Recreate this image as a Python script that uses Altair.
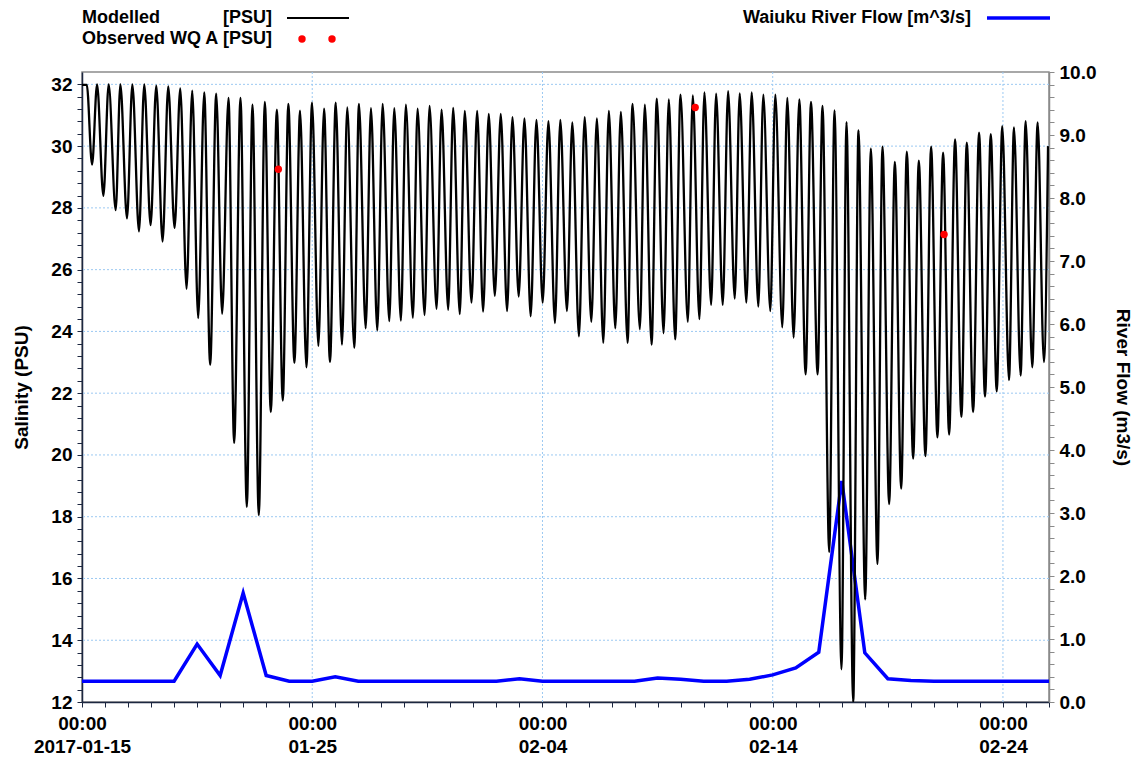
import altair as alt
import pandas as pd

FONT = "Liberation Sans"
START = pd.Timestamp("2017-01-15 00:00")

# ---- Modelled salinity: high-water peaks (hours since 2017-01-15 00:00, PSU)
peak_hours = [0, 5,
              15.7, 27.8, 40.0, 52.5, 64.9, 77.4, 89.9, 102.4, 114.9, 127.4,
              139.9, 152.7, 165.2, 177.7, 190.6, 203.1, 215.1, 227.3, 239.8, 252.3,
              264.5, 276.5, 288.7, 301.2, 313.4, 325.5, 337.6, 349.8, 362.3, 374.8,
              386.9, 399.0, 411.9, 424.0, 436.5, 448.7, 461.2, 473.7, 486.2, 498.6,
              511.1, 524.0, 536.7, 549.2, 561.7, 573.9, 586.7, 599.2, 611.7, 623.9,
              636.7, 648.8, 661.0, 673.5, 685.6, 698.1, 710.2, 722.7, 735.2, 747.7,
              759.9, 771.9, 784.4, 796.9, 809.4, 822.3, 834.4, 847.3, 859.8, 872.3,
              885.1, 897.6, 910.1, 922.3, 935.1, 947.3, 959.3, 971.5, 983.7, 996.2,
              1007.0]
peak_psu = [31.98, 31.98,
            32.0, 32.0, 32.0, 32.0, 32.0, 31.96, 31.93, 31.87, 31.80, 31.74,
            31.70, 31.56, 31.56, 31.34, 31.43, 31.18, 31.37, 31.15, 31.41, 31.21,
            31.41, 31.25, 31.37, 31.23, 31.37, 31.23, 31.34, 31.21, 31.30, 31.18,
            31.24, 31.14, 31.14, 31.04, 31.04, 30.94, 30.90, 30.85, 30.81, 30.85,
            30.77, 30.94, 30.90, 31.14, 31.11, 31.37, 31.34, 31.54, 31.51, 31.67,
            31.64, 31.74, 31.70, 31.78, 31.71, 31.74, 31.67, 31.67, 31.56, 31.51,
            31.43, 31.30, 31.16, 30.78, 30.51, 29.92, 29.98, 29.49, 29.82, 29.53,
            29.98, 29.79, 30.22, 30.11, 30.44, 30.39, 30.65, 30.61, 30.81, 30.77,
            30.0]

# ---- Modelled salinity: low-water troughs
trough_hours = [10.5, 22.3, 35.1, 46.9, 59.4, 71.5, 84.0, 96.5, 109.0, 121.1,
                133.6, 146.1, 158.6, 171.8, 184.3, 196.8, 209.3, 221.4, 233.9, 246.4,
                258.5, 271.0, 283.8, 295.7, 307.8, 320.3, 332.4, 344.9, 357.1, 369.6,
                381.7, 393.8, 406.0, 418.1, 430.3, 443.1, 455.2, 467.7, 480.2, 493.0,
                505.5, 518.0, 530.9, 543.4, 555.9, 568.7, 581.5, 593.7, 606.2, 618.3,
                631.5, 643.6, 655.8, 667.9, 680.4, 692.5, 705.0, 717.5, 730.0, 741.8,
                754.3, 766.8, 778.9, 791.7, 803.9, 816.4, 829.2, 841.4, 853.9, 866.4,
                879.2, 891.7, 903.9, 916.7, 928.9, 941.3, 953.5, 966.3, 978.4, 990.5, 1002.7]
trough_psu = [29.40, 28.39, 27.93, 27.66, 27.24, 27.44, 26.91, 27.35, 25.38, 24.43,
              22.92, 24.57, 20.39, 18.32, 18.05, 21.39, 21.76, 22.98, 22.84, 23.53,
              23.01, 23.57, 23.47, 24.10, 24.03, 24.33, 24.35, 24.44, 24.53, 24.73,
              24.70, 24.56, 24.93, 24.64, 25.15, 24.66, 25.13, 24.49, 24.93, 24.27,
              24.66, 23.84, 24.31, 23.63, 24.10, 23.63, 24.07, 23.57, 23.94, 23.74,
              24.31, 24.40, 24.86, 24.86, 25.06, 24.93, 24.80, 24.66, 24.13, 23.80,
              22.61, 22.61, 16.86, 13.06, 12.0, 15.32, 16.47, 18.41, 18.91, 19.88,
              19.96, 20.57, 20.66, 21.23, 21.39, 21.89, 22.06, 22.42, 22.57, 22.84, 23.01]

# ---- Observed WQ A
obs_times = ["2017-01-23 12:40", "2017-02-10 15:10", "2017-02-21 10:35"]
obs_psu = [29.25, 31.25, 27.14]

# ---- Waiuku River Flow, daily at 00:00 from 2017-01-15
flow_m3s = [0.33, 0.33, 0.33, 0.33, 0.33, 0.92, 0.42, 1.73, 0.42, 0.33,
            0.33, 0.40, 0.33, 0.33, 0.33, 0.33, 0.33, 0.33, 0.33, 0.37,
            0.33, 0.33, 0.33, 0.33, 0.33, 0.38, 0.36, 0.33, 0.33, 0.36,
            0.43, 0.54, 0.79, 3.51, 0.78, 0.37, 0.34, 0.33, 0.33, 0.33,
            0.33, 0.33, 0.33]

# ---- axes / grid
label_days = ["01-15", "01-25", "02-04", "02-14", "02-24"]
grid_dates = ["2017-01-25", "2017-02-04", "2017-02-14", "2017-02-24"]
grid_psu = [14, 16, 18, 20, 22, 24, 26, 28, 30, 32]
psu_ticks = [round(12 + 0.4 * i, 1) for i in range(51)]
flow_ticks = [round(0.2 * i, 1) for i in range(51)]

# ---- tables
mod = pd.DataFrame({
    "time": [START + pd.Timedelta(hours=h) for h in peak_hours + trough_hours],
    "psu": peak_psu + trough_psu,
}).sort_values("time")
obs = pd.DataFrame({"time": pd.to_datetime(obs_times), "psu": obs_psu})
flow = pd.DataFrame({"time": pd.date_range(START, periods=len(flow_m3s), freq="D"),
                     "flow": flow_m3s})
vgrid = pd.DataFrame({"time": pd.to_datetime(grid_dates)})
hgrid = pd.DataFrame({"psu": grid_psu})
one = pd.DataFrame({"k": [0]})

AXIS_COL = "#1c2740"
GRID_COL = "#9cc9f2"

days_js = "[" + ",".join("'%s'" % d for d in label_days) + "]"
x_label_expr = (
    "indexof(" + days_js + ", timeFormat(datum.value, '%m-%d')) < 0 ? '' : "
    "(timeFormat(datum.value, '%m-%d') == '01-15' ? ['00:00', timeFormat(datum.value, '%Y-%m-%d')] "
    ": ['00:00', timeFormat(datum.value, '%m-%d')])"
)

x_scale = alt.Scale(domain=[alt.DateTime(year=2017, month=1, date=15),
                            alt.DateTime(year=2017, month=2, date=26)])
x_axis = alt.Axis(
    title=None, grid=False,
    tickCount=alt.TimeIntervalStep(interval="day", step=1),
    labelExpr=x_label_expr, labelOverlap=False, labelFlush=False,
    labelFont=FONT, labelFontSize=19, labelFontWeight="bold", labelColor="black",
    labelLineHeight=23, labelPadding=7,
    domainColor=AXIS_COL, domainWidth=1.5, tickColor=AXIS_COL, tickSize=5,
)
X = alt.X("time:T", scale=x_scale, axis=x_axis)

psu_scale = alt.Scale(domain=[12, 32.4], nice=False, zero=False)
flow_scale = alt.Scale(domain=[0, 10], nice=False)

vgrid_layer = alt.Chart(vgrid).mark_rule(
    color=GRID_COL, strokeWidth=1, strokeDash=[2, 2]).encode(x=X)
hgrid_layer = alt.Chart(hgrid).mark_rule(
    color=GRID_COL, strokeWidth=1, strokeDash=[2, 2]).encode(
    y=alt.Y("psu:Q", scale=psu_scale, axis=None))

flow_layer = alt.Chart(flow).mark_line(color="#0000ff", strokeWidth=3.5).encode(
    x=X,
    y=alt.Y("flow:Q", scale=flow_scale, axis=alt.Axis(
        orient="right", values=flow_ticks, tickCount=200,
        labelExpr="abs(datum.value - round(datum.value)) < 0.01 ? format(datum.value, '.1f') : ''",
        grid=False, labelOverlap=False,
        labelFont=FONT, labelFontSize=19, labelFontWeight="bold", labelColor="black",
        labelPadding=5, domainColor="#8a8a8a", domainWidth=1.5, tickColor="#8a8a8a", tickSize=5,
        title="River Flow (m3/s)", titleFont=FONT, titleFontSize=19, titleFontWeight="bold",
        titleColor="black", titleAngle=90, titleX=73, titleY=315,
        titleAlign="center", titleBaseline="middle")),
)

mod_layer = alt.Chart(mod).mark_line(color="black", strokeWidth=2.3, interpolate="monotone",
                                     clip=True).encode(
    x=X,
    y=alt.Y("psu:Q", scale=psu_scale, axis=alt.Axis(
        orient="left", values=psu_ticks, tickCount=200,
        labelExpr="abs(datum.value/2 - round(datum.value/2)) < 0.01 ? format(datum.value, 'd') : ''",
        grid=False, labelOverlap=False,
        labelFont=FONT, labelFontSize=19, labelFontWeight="bold", labelColor="black",
        labelPadding=5, domainColor=AXIS_COL, domainWidth=1.5, tickColor=AXIS_COL, tickSize=5,
        title="Salinity (PSU)", titleFont=FONT, titleFontSize=19, titleFontWeight="bold",
        titleColor="black", titleAngle=270, titleX=-61, titleY=315,
        titleAlign="center", titleBaseline="middle")),
)
obs_layer = alt.Chart(obs).mark_circle(color="#ff0000", size=55, opacity=1).encode(
    x=X, y=alt.Y("psu:Q", scale=psu_scale))

left_group = alt.layer(mod_layer, obs_layer)


def ltext(txt, xpx, ypx):
    return alt.Chart(one).mark_text(
        text=txt, align="left", baseline="middle", font=FONT, fontSize=18,
        fontWeight="bold", color="black").encode(x=alt.value(xpx), y=alt.value(ypx))


legend = [
    ltext("Modelled", 0, -54),
    ltext("[PSU]", 141, -54),
    alt.Chart(one).mark_rule(color="black", strokeWidth=2).encode(
        x=alt.value(205), x2=alt.value(267), y=alt.value(-54)),
    ltext("Observed WQ A", 0, -33),
    ltext("[PSU]", 141, -33),
    alt.Chart(one).mark_circle(color="#ff0000", size=55, opacity=1).encode(
        x=alt.value(220), y=alt.value(-33)),
    alt.Chart(one).mark_circle(color="#ff0000", size=55, opacity=1).encode(
        x=alt.value(250), y=alt.value(-33)),
    ltext("Waiuku River Flow [m^3/s]", 661, -54),
    alt.Chart(one).mark_rule(color="#0000ff", strokeWidth=3.5).encode(
        x=alt.value(905), x2=alt.value(968), y=alt.value(-54)),
]

chart = alt.layer(vgrid_layer, hgrid_layer, flow_layer, left_group, *legend).resolve_scale(
    y="independent"
).properties(
    width=967, height=630,
    padding={"left": 82, "top": 72, "right": 93, "bottom": 58},
    autosize=alt.AutoSizeParams(type="none"),
    background="white",
).configure_view(stroke="#8c8c8c", strokeWidth=1.5)

chart.save("out.html", embed_options={"renderer": "svg", "actions": False})
